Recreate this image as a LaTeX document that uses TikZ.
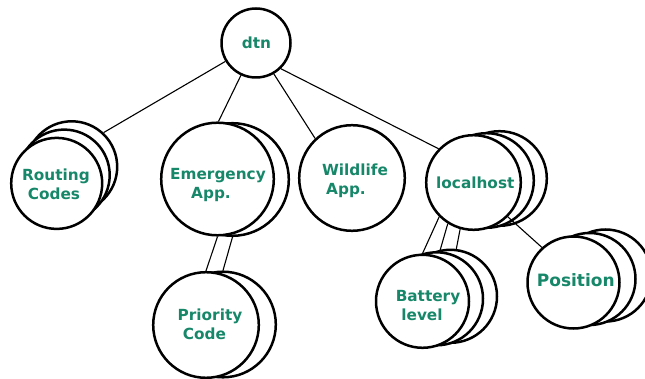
\documentclass[tikz,border=0pt]{standalone}
\usepackage{fontspec}
\setmainfont{DejaVu Sans}
\definecolor{lblgreen}{RGB}{22,135,105}
\begin{document}
\begin{tikzpicture}[x=1pt,y=-1pt,
  cp/.style={circle,draw=black,line width=2.5pt,fill=white,inner sep=0pt},
  lbl/.style={text=lblgreen,inner sep=0pt,align=center,font=\fontsize{15.3}{19}\selectfont\bfseries},
  edge/.style={draw=black,line width=1.1pt}]
\useasboundingbox (0,0) rectangle (645,379);
\clip (0,0) rectangle (645,379);
% dtn
\node[cp,minimum size=69pt] (dtn) at (256,43) {};
% Routing Codes
\node[cp,minimum size=91pt] (rc3) at (71.7,166.8) {};
\node[cp,minimum size=91pt] (rc2) at (64.2,175.1) {};
\node[cp,minimum size=91pt] (rc1) at (56.7,183.4) {};
% Emergency App.
\node[cp,minimum size=112.6pt] (em2) at (232.5,179.5) {};
\node[cp,minimum size=112.6pt] (em1) at (217.5,179) {};
% Wildlife App.
\node[cp,minimum size=105.6pt] (wl) at (352,178) {};
% localhost
\node[cp,minimum size=94.6pt] (lh3) at (499.5,178.5) {};
\node[cp,minimum size=94.6pt] (lh2) at (486.5,180.5) {};
\node[cp,minimum size=94.6pt] (lh1) at (473.5,182.5) {};
% Priority Code
\node[cp,minimum size=105.6pt] (pc2) at (223,324.5) {};
\node[cp,minimum size=105.6pt] (pc1) at (206,325) {};
% Battery level
\node[cp,minimum size=93pt] (bl3) at (450.5,296.3) {};
\node[cp,minimum size=93pt] (bl2) at (436.5,298.8) {};
\node[cp,minimum size=93pt] (bl1) at (422.5,301.3) {};
% Position
\node[cp,minimum size=92pt] (pos3) at (605.5,275.5) {};
\node[cp,minimum size=92pt] (pos2) at (589.5,279) {};
\node[cp,minimum size=92pt] (pos1) at (573.5,282.5) {};
% labels
\node[lbl,anchor=base] (tdtn) at (256.5,48.3) {dtn};
\node[lbl,anchor=north] (trc) at (56,168.8) {Routing\\Codes\hspace*{4pt}};
\node[lbl,anchor=north] (tem) at (218,168.1) {Emergency\\App.\hspace*{14pt}};
\node[lbl,anchor=north] (twl) at (355,163.6) {Wildlife\\App.\hspace*{18pt}};
\node[lbl,anchor=base] (tlh) at (475.3,188.3) {localhost};
\node[lbl,anchor=north] (tpc) at (210,309.1) {Priority\\Code\hspace*{11pt}};
\node[lbl,anchor=north] (tbl) at (428,290.1) {Battery\\level\hspace*{12pt}};
\node[lbl,anchor=base,font=\fontsize{17}{20}\selectfont\bfseries] (tpos) at (575.8,286.7) {Position};
% edges
\draw[edge] (dtn.211) -- (rc3.47);
\draw[edge] (dtn.245) -- (em1.89);
\draw[edge] (dtn.300) -- (wl.133);
\draw[edge] (dtn.314) -- (lh1.136);
\draw[edge] (em1.south) -- (pc1.north);
\draw[edge] (em2.south) -- (pc2.north);
\draw[edge] (lh1.225) -- (bl1.90);
\draw[edge] (lh1.238) -- (bl2.86);
\draw[edge] (lh1.254) -- (bl3.83);
\draw[edge] (lh1.315) -- (pos1.132);
\end{tikzpicture}
\end{document}
